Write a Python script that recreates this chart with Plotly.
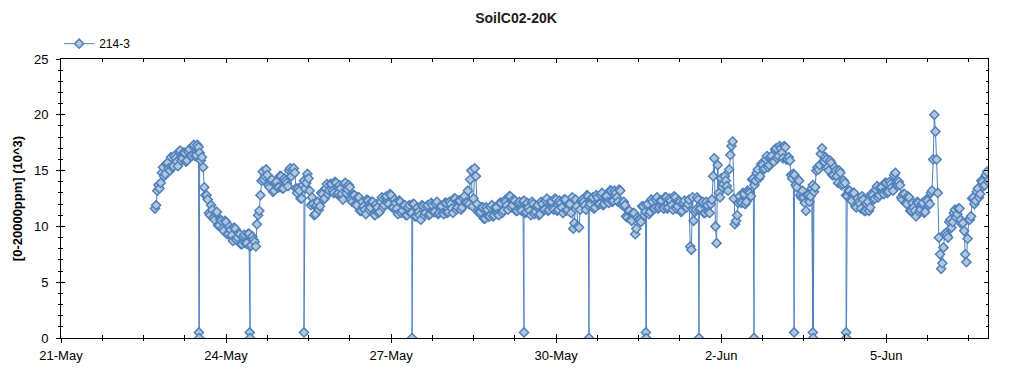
import pandas as pd
import plotly.graph_objects as go

# Series 214-3 (values in 10^3 ppm). Readings on the hour, starting 22-May 17:00
start_time = "2023-05-22 17:00"
may22 = [11.6, 13.2, 13.4, 14.8, 14.5, 15.6, 15.2]
may23 = [16.2, 15.4, 16.1, 15.4, 16.8, 16.1, 16.6, 15.9, 16.9, 16.3, 17.3, 16.4,
         17.1, 15.9, 15.3, 12.8, 12.4, 11.0, 11.5, 10.6, 11.3, 10.1, 10.5, 9.6]
may24 = [10.4, 9.3, 9.7, 8.7, 9.8, 9.0, 9.3, 8.4, 9.25, 8.5, 9.35, 8.3,
         8.8, 8.2, 11.0, 12.8, 14.9, 14.5, 14.6, 13.5, 14.2, 13.2, 14.0, 13.5]
may25 = [14.5, 13.4, 14.1, 13.6, 15.2, 15.0, 14.8, 13.0, 13.2, 12.5, 14.1, 13.9,
         14.3, 11.9, 12.0, 11.1, 12.2, 11.8, 12.9, 12.5, 13.8, 13.2, 13.8, 13.0]
may26 = [13.9, 13.0, 13.4, 12.4, 13.9, 13.3, 13.5, 12.2, 12.8, 11.9, 12.6, 11.4,
         11.8, 11.1, 12.3, 11.7, 12.2, 11.0, 11.7, 11.3, 12.6, 11.9, 12.7, 12.0]
may27 = [12.8, 11.7, 12.1, 11.1, 12.2, 11.4, 11.9, 11.0, 11.9, 11.2, 12.0, 10.9,
         11.3, 10.6, 11.8, 11.2, 11.9, 11.1, 11.9, 11.3, 12.2, 11.2, 11.8, 11.1]
may28 = [12.1, 11.3, 12.0, 11.2, 12.5, 11.7, 12.3, 11.7, 12.7, 12.1, 12.0, 15.0,
         12.5, 14.5, 11.3, 11.3, 11.7, 10.7, 11.5, 10.9, 11.9, 11.0, 11.7, 11.0]
may29 = [12.1, 11.4, 12.2, 11.5, 12.7, 11.9, 12.3, 11.4, 12.2, 11.4, 12.3, 11.3,
         11.7, 11.0, 12.0, 11.3, 11.9, 11.1, 12.0, 11.5, 12.5, 11.5, 12.2, 11.5]
may30 = [12.4, 11.5, 12.1, 11.2, 12.4, 11.5, 12.0, 12.6, 10.3, 11.8, 9.9, 12.3,
         12.2, 11.5, 12.7, 12.0, 12.6, 11.7, 12.6, 12.0, 13.0, 12.0, 12.7, 12.1]
may31 = [13.2, 12.3, 13.0, 12.2, 13.2, 11.9, 11.9, 10.8, 11.4, 10.5, 11.2, 9.8,
         10.6, 10.4, 11.8, 11.3, 12.0, 11.3, 12.2, 11.6, 12.6, 11.7, 12.3, 11.6]
jun01 = [12.6, 11.7, 12.3, 11.5, 12.6, 11.8, 12.2, 11.4, 12.3, 11.7, 12.4, 7.9,
         10.5, 11.5, 12.4, 11.6, 12.2, 11.2, 11.9, 11.2, 12.4, 16.1, 8.5, 13.0]
jun02 = [14.3, 13.8, 14.1, 13.2, 16.4, 17.6, 10.2, 11.0, 12.7, 12.1, 12.9, 12.2,
         13.1, 12.7, 14.3, 14.1, 15.1, 14.5, 15.5, 15.2, 16.3, 15.5, 16.3, 15.8]
jun03 = [17.0, 16.3, 17.0, 16.1, 17.1, 16.0, 15.9, 14.3, 14.6, 13.5, 14.1, 12.6,
         12.6, 11.4, 12.8, 12.7, 13.7, 13.5, 15.3, 15.5, 17.0, 15.8, 16.0, 15.0]
jun04 = [15.7, 14.6, 15.0, 13.9, 14.8, 13.8, 13.9, 12.7, 13.2, 12.3, 13.0, 11.7,
         12.2, 11.6, 12.4, 11.4, 12.2, 11.7, 12.8, 12.5, 13.6, 12.8, 13.5, 12.9]
jun05 = [13.9, 13.1, 13.8, 13.2, 14.8, 13.7, 13.7, 12.4, 12.9, 12.0, 12.6, 11.4,
         11.7, 10.9, 12.1, 11.5, 12.1, 11.3, 12.3, 12.0, 13.2, 20.0, 16.0, 9.0]
jun06 = [6.2, 8.1, 9.4, 9.0, 10.6, 10.4, 11.5, 11.1, 11.6, 10.2, 9.6, 6.8,
         10.6, 10.9, 12.6, 12.3, 13.4, 12.9, 14.0, 13.7, 14.9, 14.2]

# Readings on the half hour, starting 22-May 17:30
start_time_half = "2023-05-22 17:30"
may22_h = [11.9, 13.7, 13.9, 15.3, 14.7, 15.7, 15.0]
may23_h = [15.3, 16.3, 15.8, 16.7, 15.9, 16.6, 15.8, 16.7, 16.3, 17.2, 16.3, 17.3,
           16.6, 16.2, 13.5, 12.8, 11.2, 11.9, 10.8, 11.2, 10.1, 10.6, 9.8, 10.5]
may24_h = [9.3, 10.0, 9.2, 9.9, 8.8, 9.4, 8.4, 9.1, 8.5, 9.3, 8.2, 9.1,
           8.6, 10.2, 11.4, 14.1, 14.2, 15.1, 13.7, 14.1, 13.1, 13.9, 13.5, 14.5]
may25_h = [13.4, 14.3, 13.9, 15.0, 14.5, 15.2, 13.4, 13.4, 12.5, 13.7, 13.4, 14.7,
           13.2, 12.6, 11.0, 11.9, 11.5, 13.0, 12.4, 13.4, 12.9, 13.8, 13.2, 14.0]
may26_h = [12.9, 13.7, 12.9, 13.8, 13.0, 13.7, 12.4, 12.8, 12.0, 12.6, 11.4, 12.2,
           11.5, 12.4, 11.5, 12.2, 11.1, 12.0, 11.2, 12.2, 11.7, 12.6, 12.1, 12.9]
may27_h = [11.7, 12.4, 11.6, 12.3, 11.2, 11.9, 11.0, 11.7, 11.2, 12.0, 10.9, 11.7,
           11.0, 11.9, 11.0, 11.8, 11.0, 12.1, 11.3, 12.0, 11.1, 11.8, 11.2, 12.1]
may28_h = [11.2, 12.2, 11.6, 12.5, 11.5, 12.3, 11.5, 12.5, 12.1, 13.2, 14.2, 11.8,
           15.2, 12.0, 11.2, 11.7, 10.7, 11.7, 10.9, 11.7, 10.9, 11.7, 11.1, 12.1]
may29_h = [11.2, 12.3, 11.9, 12.7, 11.7, 12.4, 11.4, 12.1, 11.5, 12.2, 11.2, 12.1,
           11.4, 12.2, 11.1, 11.8, 11.0, 12.2, 11.5, 12.3, 11.4, 12.2, 11.6, 12.5]
may30_h = [11.4, 12.3, 11.7, 12.4, 11.4, 12.0, 11.2, 9.8, 12.4, 10.0, 11.5, 12.4,
           11.9, 12.8, 11.8, 12.5, 11.6, 12.8, 12.0, 12.8, 11.9, 12.7, 12.2, 13.2]
may31_h = [12.2, 13.2, 12.6, 13.3, 12.0, 12.2, 10.9, 11.4, 10.6, 11.2, 9.3, 10.8,
           10.6, 11.8, 11.0, 11.9, 11.1, 12.4, 11.6, 12.4, 11.6, 12.3, 11.7, 12.6]
jun01_h = [11.6, 12.5, 11.9, 12.7, 11.6, 12.3, 11.3, 12.1, 11.7, 12.0, 8.2, 12.6,
           11.3, 12.6, 11.5, 12.1, 11.2, 12.2, 11.3, 12.0, 14.5, 10.0, 15.5, 12.6]
jun02_h = [13.5, 14.5, 13.6, 15.1, 17.2, 12.5, 10.5, 12.1, 12.2, 13.0, 12.0, 13.2,
           13.0, 14.2, 13.7, 14.8, 14.3, 15.6, 15.1, 16.0, 15.3, 16.2, 15.8, 16.9]
jun03_h = [16.1, 17.2, 16.6, 17.2, 16.0, 16.2, 14.6, 14.7, 13.7, 14.2, 12.8, 13.2,
           12.1, 12.8, 12.2, 13.4, 13.1, 15.0, 15.1, 16.5, 15.8, 16.2, 15.3, 15.9]
jun04_h = [14.6, 15.3, 14.5, 15.0, 13.7, 14.1, 12.8, 13.2, 12.4, 13.0, 11.8, 12.5,
           12.0, 12.7, 11.4, 12.0, 11.4, 12.9, 12.4, 13.3, 12.6, 13.5, 13.0, 13.9]
jun05_h = [13.0, 14.0, 13.5, 14.6, 13.7, 14.0, 12.6, 12.9, 12.1, 12.7, 11.4, 12.1,
           11.4, 12.2, 11.3, 12.0, 11.2, 12.4, 11.9, 13.0, 16.0, 18.5, 13.0, 7.5]
jun06_h = [6.7, 9.3, 9.2, 10.4, 9.9, 11.2, 10.8, 11.6, 10.6, 10.3, 7.5, 8.9,
           10.6, 12.5, 12.0, 13.1, 12.6, 14.1, 13.6, 14.6, 14.0]

# Sensor dropouts (readings falling to ~0)
drop_times = ["2023-05-23 12:10", "2023-05-23 12:20", "2023-05-24 10:20", "2023-05-24 10:30",
              "2023-05-25 10:00", "2023-05-27 09:10", "2023-05-29 10:00", "2023-05-30 14:20",
              "2023-05-31 15:10", "2023-05-31 15:20", "2023-06-01 14:20", "2023-06-02 14:20",
              "2023-06-03 07:50", "2023-06-03 16:00", "2023-06-03 16:10", "2023-06-04 06:30",
              "2023-06-04 06:40"]
drop_vals = [0.5, 0.0, 0.5, 0.0, 0.5, 0.0, 0.5, 0.0, 0.5, 0.0, 0.0, 0.0, 0.5, 0.5, 0.0, 0.5, 0.0]

x_tick_start = "2023-05-21"
x_range = ["2023-05-21 00:00", "2023-06-06 20:25"]
y_range = [0, 25]

values = (may22 + may23 + may24 + may25 + may26 + may27 + may28 + may29 + may30 + may31
          + jun01 + jun02 + jun03 + jun04 + jun05 + jun06)
values_h = (may22_h + may23_h + may24_h + may25_h + may26_h + may27_h + may28_h + may29_h
            + may30_h + may31_h + jun01_h + jun02_h + jun03_h + jun04_h + jun05_h + jun06_h)
df = pd.concat([
    pd.DataFrame({"t": pd.date_range(start_time, periods=len(values), freq="1h"), "v": values}),
    pd.DataFrame({"t": pd.date_range(start_time_half, periods=len(values_h), freq="1h"), "v": values_h}),
    pd.DataFrame({"t": pd.to_datetime(drop_times), "v": drop_vals}),
]).sort_values("t")

LINE = "#4f81bd"
FILL = "#b4c7da"

fig = go.Figure()
fig.add_trace(go.Scatter(
    x=df["t"], y=df["v"], name="214-3", mode="lines+markers",
    line=dict(color=LINE, width=1),
    marker=dict(symbol="diamond", size=7, color=FILL, line=dict(color=LINE, width=1.5)),
))
# invisible trace for overlay axes (outer tick halves)
fig.add_trace(go.Scatter(x=[], y=[], xaxis="x2", yaxis="y2", showlegend=False, hoverinfo="skip"))

font_main = "Liberation Sans, Arial, sans-serif"
W, H = 1016, 367
fig.update_layout(
    width=W, height=H,
    paper_bgcolor="white", plot_bgcolor="white",
    margin=dict(l=53, r=36, t=51, b=37, autoexpand=False),
    font=dict(family=font_main, size=13, color="black"),
    title=dict(text="<b>SoilC02-20K</b>", x=0.5, xanchor="center", y=1 - 10 / H, yanchor="middle",
               font=dict(size=14, color="#1a1a1a")),
    showlegend=True,
    legend=dict(x=-0.002, y=1.003, xanchor="left", yanchor="bottom", orientation="h",
                font=dict(size=12), bgcolor="rgba(0,0,0,0)", itemwidth=30),
    xaxis=dict(
        type="date", range=x_range, tick0=x_tick_start, dtick=3 * 86400000,
        tickformat="%-d-%b", ticks="inside", ticklen=4, tickcolor="black",
        showline=True, linecolor="black", linewidth=1, mirror="allticks",
        showgrid=False, zeroline=False, automargin=False, ticklabelstandoff=5,
        minor=dict(ticks="inside", ticklen=3, dtick=18 * 3600000, tickcolor="black", showgrid=False),
        tickfont=dict(size=13),
    ),
    yaxis=dict(
        range=y_range, dtick=5, ticks="inside", ticklen=4, tickcolor="black",
        showline=True, linecolor="black", linewidth=1, mirror="allticks",
        showgrid=False, zeroline=False, automargin=False, ticklabelstandoff=9,
        minor=dict(ticks="inside", ticklen=2, dtick=1, tickcolor="black", showgrid=False),
        title=dict(text="<b>[0-20000ppm] (10^3)</b>", font=dict(size=13), standoff=8),
        tickfont=dict(size=13),
    ),
    xaxis2=dict(
        type="date", range=x_range, overlaying="x", side="bottom", anchor="y2",
        tick0=x_tick_start, dtick=3 * 86400000, ticks="outside", ticklen=4, tickcolor="black",
        showticklabels=False, showline=False, showgrid=False, zeroline=False,
        minor=dict(ticks="outside", ticklen=2, dtick=18 * 3600000, tickcolor="black", showgrid=False),
    ),
    yaxis2=dict(
        range=y_range, overlaying="y", side="left", anchor="x2",
        dtick=5, ticks="outside", ticklen=4, tickcolor="black",
        showticklabels=False, showline=False, showgrid=False, zeroline=False,
        minor=dict(ticks="outside", ticklen=2, dtick=1, tickcolor="black", showgrid=False),
    ),
)

fig.write_html("out.html")
